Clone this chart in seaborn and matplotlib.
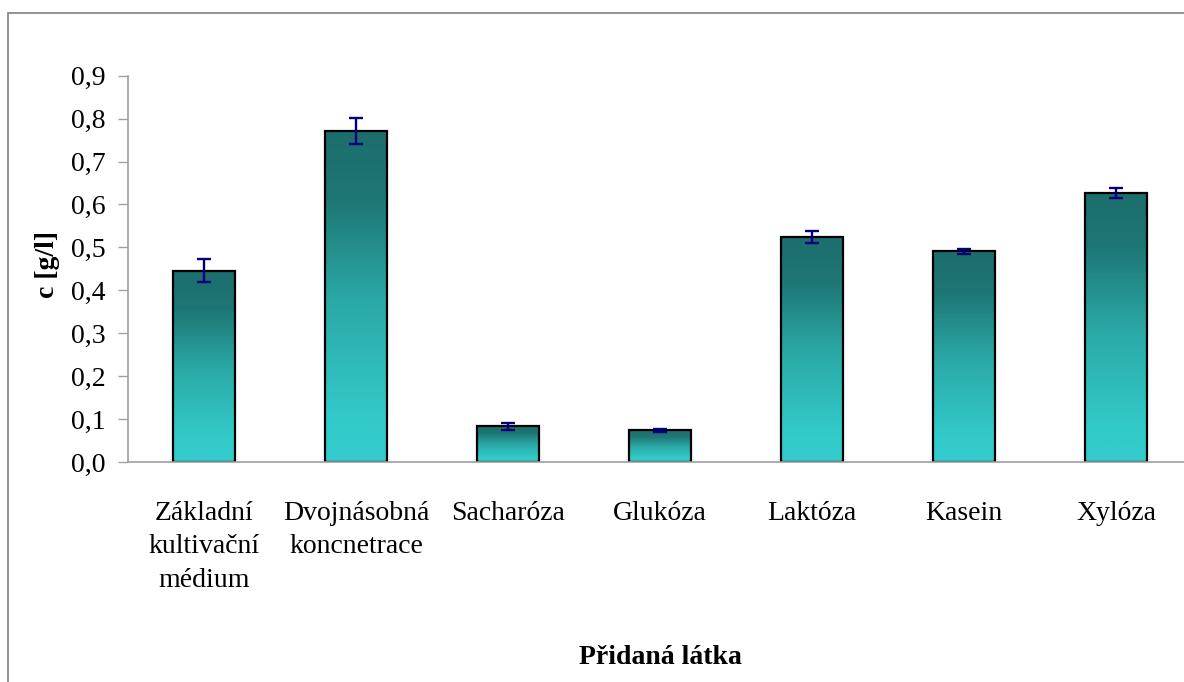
import numpy as np
import pandas as pd
import seaborn as sns
import matplotlib
matplotlib.use("Agg")
import matplotlib.pyplot as plt
from matplotlib.colors import LinearSegmentedColormap
from matplotlib.patches import Rectangle

categories = ["Základní\nkultivační\nmédium", "Dvojnásobná\nkoncnetrace", "Sacharóza",
              "Glukóza", "Laktóza", "Kasein", "Xylóza"]
values = [0.446, 0.771, 0.083, 0.074, 0.525, 0.491, 0.627]
errors = [0.026, 0.030, 0.009, 0.003, 0.014, 0.006, 0.011]
ytick_values = [0.0, 0.1, 0.2, 0.3, 0.4, 0.5, 0.6, 0.7, 0.8, 0.9]
ytick_labels = ["0,0", "0,1", "0,2", "0,3", "0,4", "0,5", "0,6", "0,7", "0,8", "0,9"]

df = pd.DataFrame({"Přidaná látka": categories, "c": values})

sns.set_style("white")
plt.rcParams["font.family"] = ["Liberation Serif", "DejaVu Serif"]
plt.rcParams["text.color"] = "black"
plt.rcParams["axes.labelcolor"] = "black"
plt.rcParams["xtick.labelcolor"] = "black"
plt.rcParams["ytick.labelcolor"] = "black"

fig = plt.figure(figsize=(11.84, 6.82), dpi=100)
ax = fig.add_axes([128 / 1184, 1 - 462 / 682, 1064 / 1184, (462 - 75.7) / 682])

sns.barplot(data=df, x="Přidaná látka", y="c", ax=ax, width=0.41,
            color="#33CCCC", edgecolor="black", linewidth=1.6, errorbar=None)

# gradient fill: dark teal at the top, light cyan at the bottom
cmap = LinearSegmentedColormap.from_list(
    "teal", [(0.0, "#33CCCC"), (0.12, "#33CBCA"), (0.5, "#2AA7A5"),
             (0.8, "#1E7674"), (1.0, "#1C6E6C")])
grad = np.linspace(0, 1, 256).reshape(-1, 1)
for p in ax.patches:
    x0, w, h = p.get_x(), p.get_width(), p.get_height()
    im = ax.imshow(grad, cmap=cmap, aspect="auto", origin="lower",
                   extent=[x0, x0 + w, 0, h], zorder=p.get_zorder() - 0.1)
    im.set_clip_path(p)
    p.set_facecolor("none")

centers = [p.get_x() + p.get_width() / 2 for p in ax.patches]
ax.errorbar(centers, values, yerr=errors, fmt="none", ecolor="#000080",
            elinewidth=1.7, capsize=5, capthick=1.7, zorder=5)

ax.set_xlim(-0.5, len(categories) - 0.5)
ax.set_ylim(0, 0.9)
ax.set_yticks(ytick_values)
ax.set_yticklabels(ytick_labels)

ax.set_xticks(range(len(categories)))
ax.set_xticklabels(categories, linespacing=1.45)
ax.set_xticks(np.arange(-0.5, len(categories), 1.0), minor=True)
ax.tick_params(axis="x", which="major", length=0, pad=28, labelsize=20)
ax.tick_params(axis="x", which="minor", length=7, width=1, color="#A0A0A0", direction="out")
ax.tick_params(axis="y", which="major", length=7, width=1, color="#A0A0A0",
               direction="out", pad=9, labelsize=20, left=True)

for side in ["top", "right"]:
    ax.spines[side].set_visible(False)
for side in ["left", "bottom"]:
    ax.spines[side].set_color("#A0A0A0")
    ax.spines[side].set_linewidth(1.2)

ax.set_xlabel("Přidaná látka", fontsize=20, fontweight="bold")
ax.xaxis.set_label_coords(0.5, -0.475)
ax.set_ylabel("c [g/l]", fontsize=20, fontweight="bold")
ax.yaxis.set_label_coords(-0.064, 0.51)

# chart area frame
fig.patches.append(Rectangle((8 / 1184, -0.05), 1.1, 1 - 13 / 682 + 0.05,
                             transform=fig.transFigure, fill=False,
                             edgecolor="#808080", linewidth=1.2))

fig.savefig("out.png", dpi=100)
